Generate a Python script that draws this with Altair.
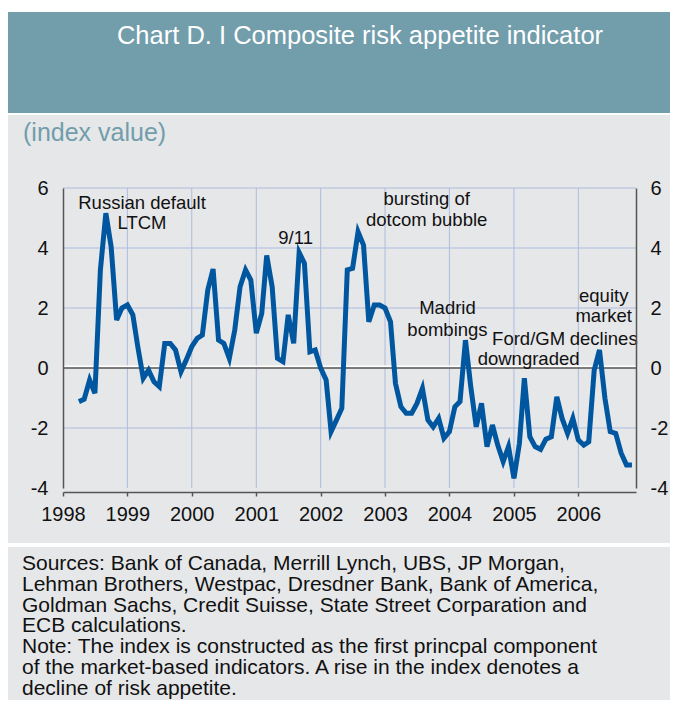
import altair as alt
import pandas as pd

# ---------------- data ----------------
start_month = "1998-04-01"
end_month = "2006-11-01"
values = [
    -1.12, -1.04, -0.40, -0.84, 3.27, 5.16, 4.04, 1.60, 2.00, 2.10,
    1.77, 0.71, -0.34, -0.07, -0.46, -0.62, 0.82, 0.82, 0.60, -0.12,
    0.27, 0.71, 0.99, 1.10, 2.60, 3.30, 0.93, 0.82, 0.32, 1.27,
    2.71, 3.27, 2.93, 1.16, 1.82, 3.75, 2.71, 0.32, 0.21, 1.77,
    0.82, 3.85, 3.49, 0.54, 0.60, 0.00, -0.40, -2.12, -1.73, -1.34,
    3.27, 3.32, 4.54, 4.10, 1.54, 2.10, 2.10, 2.00, 1.54, -0.51,
    -1.29, -1.51, -1.51, -1.18, -0.68, -1.73, -1.96, -1.68, -2.34, -2.12,
    -1.29, -1.12, 0.93, -0.62, -1.96, -1.18, -2.62, -1.90, -2.57, -3.12,
    -2.62, -3.68, -2.51, -0.34, -2.29, -2.62, -2.71, -2.37, -2.29, -0.96,
    -1.68, -2.18, -1.68, -2.40, -2.57, -2.46, -0.07, 0.60, -1.01, -2.12,
    -2.18, -2.84, -3.23, -3.23,
]
years = list(range(1998, 2007))
y_ticks = [-4, -2, 0, 2, 4, 6]
y_grid = [-2, 2, 4, 6]

ann_text = ["Russian default", "LTCM", "9/11", "bursting of", "dotcom bubble",
            "Madrid", "bombings", "Ford/GM", "downgraded",
            "equity", "market", "declines"]
ann_date = ["1999-03-25", "1999-03-25", "2001-08-12", "2003-08-25", "2003-08-25",
            "2003-12-21", "2003-12-21", "2005-03-25", "2005-03-25",
            "2006-05-25", "2006-05-25", "2006-05-25"]
ann_value = [5.51, 4.83, 4.33, 5.63, 4.94, 2.00, 1.28, 0.98, 0.30, 2.39, 1.72, 0.98]

title_text = "Chart D. I Composite risk appetite indicator"
unit_text = "(index value)"
note_lines = [
    "Sources: Bank of Canada, Merrill Lynch, UBS, JP Morgan,",
    "Lehman Brothers, Westpac, Dresdner Bank, Bank of America,",
    "Goldman Sachs, Credit Suisse, State Street Corparation and",
    "ECB calculations.",
    "Note: The index is constructed as the first princpal component",
    "of the market-based indicators. A rise in the index denotes a",
    "decline of risk appetite.",
]

# ---------------- tables ----------------
dates = pd.date_range(start_month, end_month, freq="MS").strftime("%Y-%m-%d")
df = pd.DataFrame({"date": list(dates), "value": values})
ann = pd.DataFrame({"date": ann_date, "value": ann_value, "text": ann_text})
xgrid = pd.DataFrame({"date": [f"{y}-01-01" for y in years[1:]]})
ygrid = pd.DataFrame({"v": y_grid})
zero = pd.DataFrame({"v": [0]})
one = alt.Data(values=[{}])

FONT = "Liberation Sans"
BAR = "#729dab"
PANEL = "#e6e7e9"
GRID = "#aebbde"
AXIS = "#555555"
LINE = "#00579f"

x_scale = alt.Scale(type="utc",
                    domain=[alt.DateTime(year=1998, month=1, date=1, utc=True),
                            alt.DateTime(year=2006, month=11, date=24, utc=True)])
y_scale = alt.Scale(domain=[-4, 6], nice=False, zero=False)

x_axis = alt.Axis(values=[alt.DateTime(year=y, month=1, date=1, utc=True) for y in years],
                  format="%Y", title=None, offset=4, grid=False,
                  labelOverlap=False, labelBound=False, labelFlush=False,
                  domainColor=AXIS, domainWidth=1.5, tickColor=AXIS, tickWidth=1.5,
                  tickSize=4, labelPadding=8, labelFontSize=20, labelFont=FONT,
                  labelColor="#111111", zindex=1)
left_axis = alt.Axis(values=y_ticks, orient="left", title=None, grid=False,
                     domainColor=AXIS, domainWidth=1.5, ticks=False, tickSize=0,
                     labelPadding=15, labelFontSize=20, labelFont=FONT,
                     labelColor="#111111", labelExpr="'' + datum.value", zindex=1)
right_axis = alt.Axis(values=y_ticks, orient="right", title=None, grid=False,
                      domainColor=AXIS, domainWidth=1.5, ticks=False, tickSize=0,
                      labelPadding=14, labelFontSize=20, labelFont=FONT,
                      labelColor="#111111", labelExpr="'' + datum.value", zindex=1)

# ---------------- decoration (pixel space, relative to plot origin) ----------------
bar = alt.Chart(one).mark_rect(color=BAR).encode(
    x=alt.value(-55), x2=alt.value(615), y=alt.value(-176), y2=alt.value(-75))
panel1 = alt.Chart(one).mark_rect(color=PANEL).encode(
    x=alt.value(-55), x2=alt.value(615), y=alt.value(-73), y2=alt.value(355))
panel2 = alt.Chart(one).mark_rect(color=PANEL).encode(
    x=alt.value(-55), x2=alt.value(615), y=alt.value(359), y2=alt.value(530))

title = alt.Chart(one).mark_text(
    text=title_text, font=FONT, fontSize=25.5, color="white",
    align="center", baseline="middle").encode(x=alt.value(297), y=alt.value(-152))
unit = alt.Chart(one).mark_text(
    text=unit_text, font=FONT, fontSize=25, color=BAR,
    align="left", baseline="middle").encode(x=alt.value(-40), y=alt.value(-55))
note = alt.Chart(one).mark_text(
    text=note_lines, font=FONT, fontSize=21, color="#111111", lineHeight=20.8,
    align="left", baseline="alphabetic").encode(x=alt.value(-41), y=alt.value(382))

# ---------------- plot ----------------
vgrid = alt.Chart(xgrid).mark_rule(color=GRID, strokeWidth=1).encode(
    x=alt.X("date:T", scale=x_scale, axis=x_axis))
hgrid = alt.Chart(ygrid).mark_rule(color=GRID, strokeWidth=1).encode(
    y=alt.Y("v:Q", scale=y_scale, axis=right_axis))
zero_hl = alt.Chart(zero).mark_rule(color="white", strokeWidth=2, yOffset=-1.5).encode(
    y=alt.Y("v:Q", scale=y_scale, axis=None))
zero_line = alt.Chart(zero).mark_rule(color=AXIS, strokeWidth=1.5).encode(
    y=alt.Y("v:Q", scale=y_scale, axis=None))
line = alt.Chart(df).mark_line(color=LINE, strokeWidth=5, strokeJoin="miter").encode(
    x=alt.X("date:T", scale=x_scale, axis=x_axis),
    y=alt.Y("value:Q", scale=y_scale, axis=left_axis))
labels = alt.Chart(ann).mark_text(
    font=FONT, fontSize=18.5, color="#111111", align="center", baseline="middle").encode(
    x=alt.X("date:T", scale=x_scale, axis=x_axis),
    y=alt.Y("value:Q", scale=y_scale, axis=None),
    text="text:N")

chart = alt.layer(
    bar, panel1, panel2, title, unit, note,
    vgrid, hgrid, zero_hl, zero_line, line, labels,
).resolve_scale(y="independent").properties(
    width=573, height=300,
    autosize=alt.AutoSizeParams(type="none"),
    padding={"left": 55, "top": 180, "right": 34, "bottom": 212},
).configure(background="white").configure_view(stroke=None, fill=None)

chart.save("out.html", embed_options={"renderer": "svg", "actions": False})
